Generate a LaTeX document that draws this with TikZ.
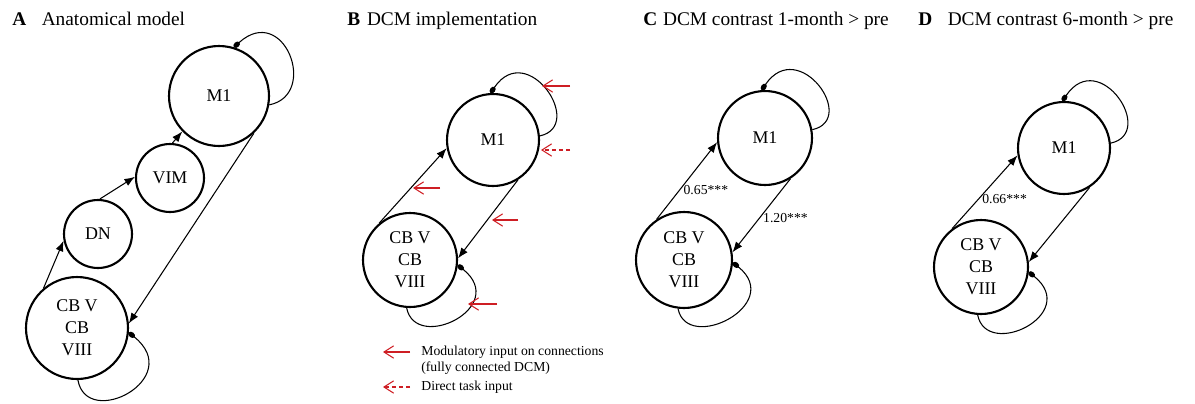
\documentclass[tikz,border=0pt]{standalone}
\usepackage{fontspec}
\setmainfont{Liberation Serif}
\usepackage{tikz}
\usetikzlibrary{
  positioning,
  arrows.meta
}
\definecolor{modred}{RGB}{206,30,36}

\tikzset{
  region/.style={circle, draw, line width=1.2pt, inner sep=0pt, align=center,
    font=\fontsize{10.2}{12.5}\selectfont},
  conn/.style={line width=0.6pt, -{Latex[length=6pt,width=4.5pt]}},
  selfconn/.style={line width=0.6pt, -{Circle[length=4.2pt,width=3pt]}},
  modin/.style={modred, line width=0.6pt, -{Straight Barb[length=5.5pt,width=7pt]}},
  taskin/.style={modin, dash pattern=on 2.5pt off 1.5pt},
  paneltitle/.style={anchor=base west, inner sep=0pt, font=\fontsize{11}{13}\selectfont},
  weight/.style={anchor=west, inner sep=2pt, font=\fontsize{7.8}{9}\selectfont},
  legendtext/.style={anchor=west, inner sep=0pt, font=\fontsize{7.8}{9.5}\selectfont}
}

\begin{document}
\begin{tikzpicture}[x=0.02cm,y=-0.02cm]
  \useasboundingbox (0,0) rectangle (1195,403);

  % panel titles
  \node[paneltitle] (titlea) at (12,25) {\textbf{A}\hspace{0.8em}Anatomical model};
  \node[paneltitle] (titleb) at (347,25) {\textbf{B}\hspace{0.35em}DCM implementation};
  \node[paneltitle] (titlec) at (643,25) {\textbf{C}\hspace{0.3em}DCM contrast 1-month > pre};
  \node[paneltitle] (titled) at (918,25) {\textbf{D}\hspace{0.8em}DCM contrast 6-month > pre};

  % A: anatomical model
  \node[region, minimum size=2cm] (m1a) at (219,96) {M1};
  \node[region, minimum size=1.36cm] (vima) at (170,178) {VIM};
  \node[region, minimum size=1.36cm] (dna) at (98,234) {DN};
  \node[region, minimum size=2.04cm] (cba) at (77,328) {CB V\\CB\\VIII};
  \draw[conn] (cba.130) -- (dna.191);
  \draw[conn] (dna.87) -- (vima.178);
  \draw[conn] (vima.86) -- (m1a.224);
  \draw[conn] (m1a.-47) -- (cba.5);
  \draw[selfconn] (m1a.-10) .. controls +(50,-10) and +(50,-45) .. (m1a.73);
  \draw[selfconn] (cba.-89) .. controls +(9,50) and +(57,46) .. (cba.-5);

  % B: DCM implementation
  \node[region, minimum size=1.84cm] (m1b) at (493,140) {M1};
  \node[region, minimum size=1.88cm] (cbb) at (410,260) {CB V\\CB\\VIII};
  \draw[conn] (cbb.130) -- (m1b.190);
  \draw[conn] (m1b.-58) -- (cbb.2);
  \draw[selfconn] (m1b.5) .. controls +(46,-10) and +(37,-54) .. (m1b.93);
  \draw[selfconn] (cbb.-94) .. controls +(9,45) and +(52,42) .. (cbb.-6);
  \draw[modin] (570,86) -- (542,86);
  \draw[taskin] (570,150) -- (541,150);
  \draw[modin] (440,188) -- (413,188);
  \draw[modin] (518,220) -- (492,220);
  \draw[modin] (497,304) -- (468,304);

  % legend
  \draw[modin] (410,352) -- (383,352);
  \node[legendtext] (leg1) at (421,352) {Modulatory input on connections};
  \node[legendtext] (leg2) at (421,368) {(fully connected DCM)};
  \draw[taskin] (410,387) -- (383,387);
  \node[legendtext] (leg3) at (421,387) {Direct task input};

  % C: 1-month > pre
  \node[region, minimum size=1.88cm] (m1c) at (765,138) {M1};
  \node[region, minimum size=1.92cm] (cbc) at (684,260) {CB V\\CB\\VIII};
  \draw[conn] (cbc.124) -- node[weight, pos=.38] {0.65***} (m1c.185);
  \draw[conn] (m1c.-58) -- node[weight, pos=.54] {1.20***} (cbc.9);
  \draw[selfconn] (m1c.10) .. controls +(46,-10) and +(37,-54) .. (m1c.94);
  \draw[selfconn] (cbc.-97) .. controls +(9,45) and +(52,42) .. (cbc.-3);

  % D: 6-month > pre
  \node[region, minimum size=1.84cm] (m1d) at (1064,148) {M1};
  \node[region, minimum size=1.88cm] (cbd) at (981,267) {CB V\\CB\\VIII};
  \draw[conn] (cbd.127) -- node[weight, pos=.4] {0.66***} (m1d.189);
  \draw[conn] (m1d.-57) -- (cbd.6);
  \draw[selfconn] (m1d.6) .. controls +(46,-10) and +(37,-54) .. (m1d.92);
  \draw[selfconn] (cbd.-94) .. controls +(9,45) and +(52,42) .. (cbd.-6);
\end{tikzpicture}
\end{document}
